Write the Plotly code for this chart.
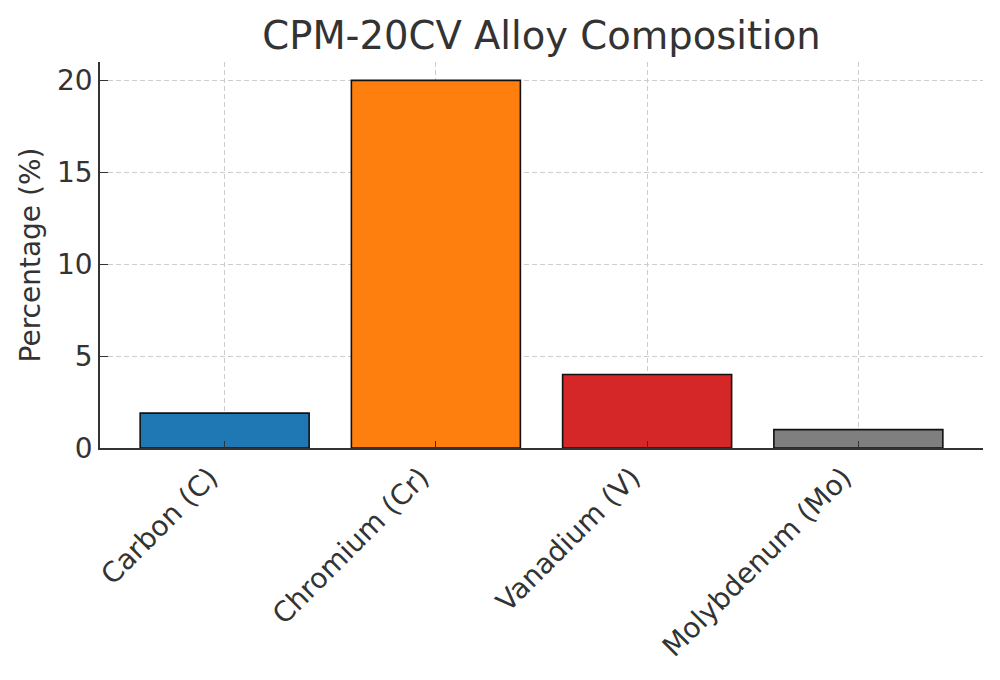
import plotly.graph_objects as go

elements = ["Carbon (C)", "Chromium (Cr)", "Vanadium (V)", "Molybdenum (Mo)"]
percentages = [1.9, 20, 4, 1]
bar_colors = ["#1f77b4", "#ff7f0e", "#d62728", "#7f7f7f"]
y_ticks = [0, 5, 10, 15, 20]

font_family = "DejaVu Sans, sans-serif"
text_color = "#333333"

fig = go.Figure()
fig.add_trace(go.Bar(
    x=elements,
    y=percentages,
    marker=dict(color=bar_colors, line=dict(color="#111111", width=1.6)),
    width=0.8,
))

grid = dict(showgrid=True, gridcolor="#cccccc", griddash="5px,3px", gridwidth=1)

# the page adds an 8px body margin, so the margins here are shifted by that
fig.update_layout(
    width=1000, height=680,
    paper_bgcolor="white", plot_bgcolor="white",
    margin=dict(l=92, r=25, t=54, b=240),
    showlegend=False,
    font=dict(family=font_family, size=28, color=text_color),
    title=dict(text="CPM-20CV Alloy Composition", xref="paper", x=0.5, xanchor="center",
               y=0.960, yanchor="middle",
               font=dict(size=38.5, color=text_color)),
    xaxis=dict(
        **grid,
        range=[-0.59, 3.59],
        tickangle=-45,
        ticklabelshift=-15,
        ticks="inside", ticklen=7, tickcolor=text_color,
        showline=True, linecolor=text_color, linewidth=1.5,
        layer="above traces",
        automargin=False,
        tickfont=dict(size=28, color=text_color),
    ),
    yaxis=dict(
        **grid,
        range=[0, 21],
        tickvals=y_ticks,
        ticks="inside", ticklen=8, tickcolor=text_color,
        showline=True, linecolor=text_color, linewidth=1.5,
        zeroline=False,
        layer="above traces",
        automargin=False,
        tickfont=dict(size=28, color=text_color),
        title=dict(text="Percentage (%)", font=dict(size=28, color=text_color), standoff=8),
    ),
)

fig.write_html("out.html")
